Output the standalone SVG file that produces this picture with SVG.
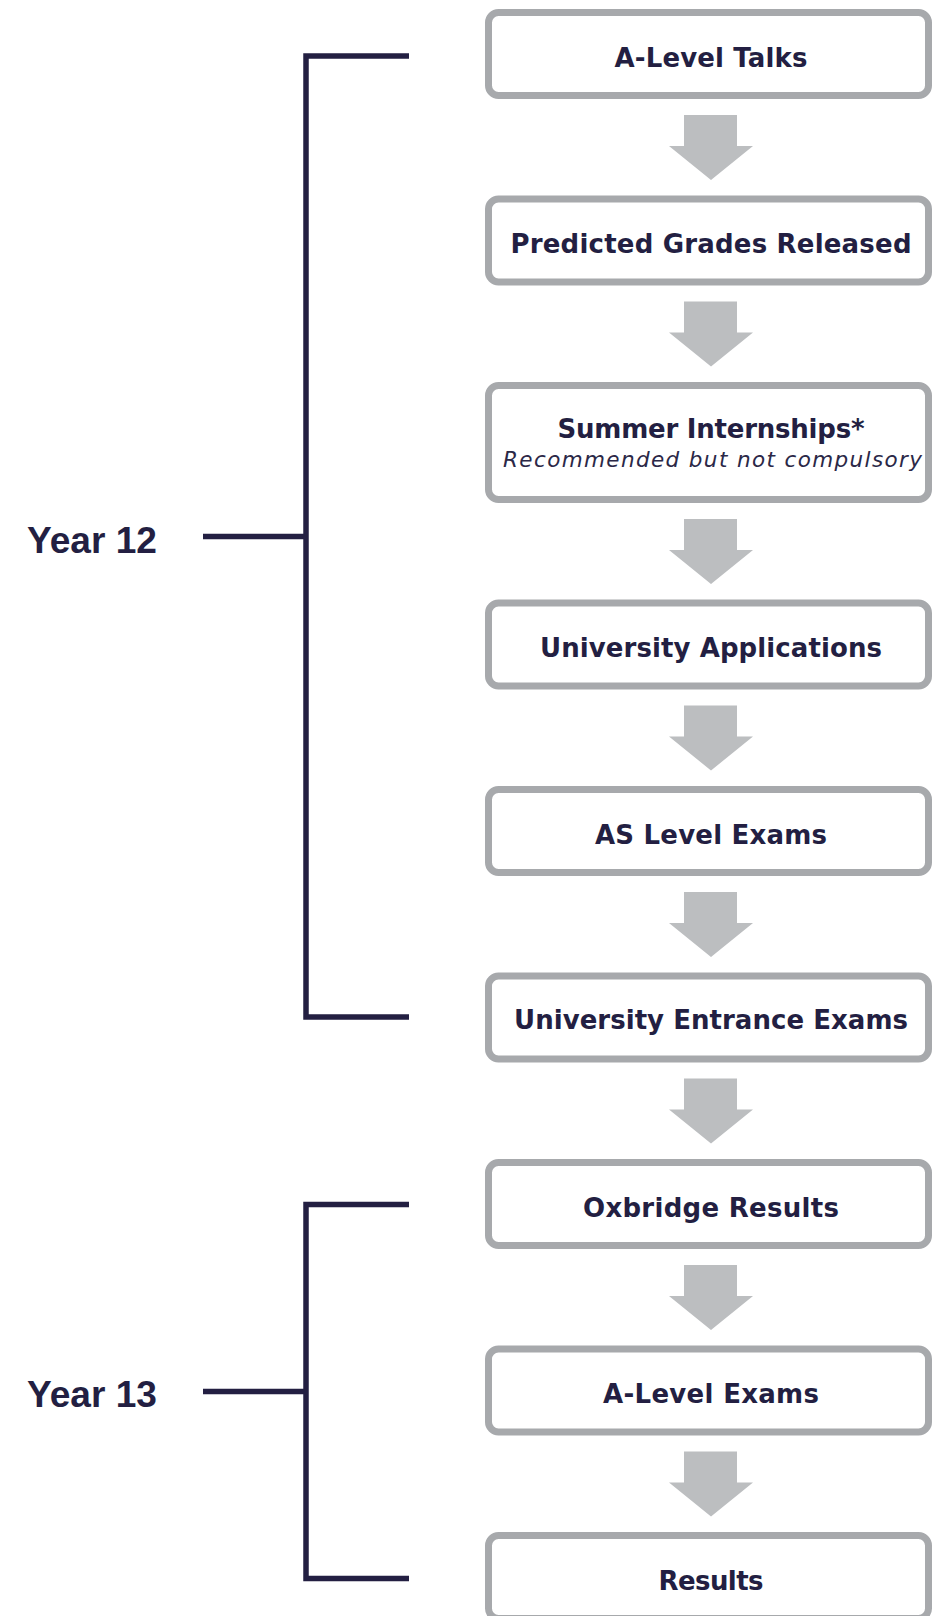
<svg xmlns="http://www.w3.org/2000/svg" width="932" height="1616" viewBox="0 0 932 1616">
<style>
.box{fill:#ffffff;stroke:#a7a9ac;stroke-width:7}
.lbl{font-family:"DejaVu Sans",sans-serif;font-weight:bold;font-size:26px;fill:#231f42;text-anchor:middle}
.sub{font-family:"DejaVu Sans",sans-serif;font-style:italic;font-size:21.5px;fill:#2b2847;text-anchor:middle}
.year{font-family:"Liberation Sans",Arial,sans-serif;font-weight:bold;font-size:36px;fill:#231f42}
.br{fill:none;stroke:#231f42;stroke-width:5.5;stroke-linejoin:miter;stroke-linecap:butt}
.arr{fill:#bcbec0}
</style>
<defs>
<path id="arrow" d="M-27,0 H26 V31 H42 L0,65 L-42,31 H-27 Z"/>
</defs>
<rect width="932" height="1616" fill="#ffffff"/>
<g id="connectors">
<use href="#arrow" class="arr" x="711" y="115"/>
<use href="#arrow" class="arr" x="711" y="301.5"/>
<use href="#arrow" class="arr" x="711" y="519"/>
<use href="#arrow" class="arr" x="711" y="705.5"/>
<use href="#arrow" class="arr" x="711" y="892"/>
<use href="#arrow" class="arr" x="711" y="1078.5"/>
<use href="#arrow" class="arr" x="711" y="1265"/>
<use href="#arrow" class="arr" x="711" y="1451.5"/>
<path class="br" d="M409,56 H306 V1017 H409 M203,536.5 H306"/>
<path class="br" d="M409,1204.5 H306 V1578.5 H409 M203,1391.5 H306"/>
</g>
<g id="year12"><text class="year" x="27" y="553" textLength="130" lengthAdjust="spacingAndGlyphs">Year 12</text></g>
<g id="year13"><text class="year" x="27" y="1407" textLength="130" lengthAdjust="spacingAndGlyphs">Year 13</text></g>
<g id="n1"><rect class="box" x="488.5" y="12.5" width="440" height="83" rx="10"/><text class="lbl" x="711" y="66.5" textLength="193">A-Level Talks</text></g>
<g id="n2"><rect class="box" x="488.5" y="199" width="440" height="83" rx="10"/><text class="lbl" x="711" y="253" textLength="401">Predicted Grades Released</text></g>
<g id="n3"><rect class="box" x="488.5" y="385.5" width="440" height="114" rx="10"/><text class="lbl" x="711" y="438" textLength="307">Summer Internships*</text><text class="sub" x="712.5" y="467" textLength="419">Recommended but not compulsory</text></g>
<g id="n4"><rect class="box" x="488.5" y="603" width="440" height="83" rx="10"/><text class="lbl" x="711" y="657" textLength="342">University Applications</text></g>
<g id="n5"><rect class="box" x="488.5" y="789.5" width="440" height="83" rx="10"/><text class="lbl" x="711" y="843.5" textLength="232">AS Level Exams</text></g>
<g id="n6"><rect class="box" x="488.5" y="976" width="440" height="83" rx="10"/><text class="lbl" x="711" y="1029" textLength="394">University Entrance Exams</text></g>
<g id="n7"><rect class="box" x="488.5" y="1162.5" width="440" height="83" rx="10"/><text class="lbl" x="711" y="1216.5" textLength="256">Oxbridge Results</text></g>
<g id="n8"><rect class="box" x="488.5" y="1349" width="440" height="83" rx="10"/><text class="lbl" x="711" y="1403" textLength="216">A-Level Exams</text></g>
<g id="n9"><rect class="box" x="488.5" y="1535.5" width="440" height="83" rx="10"/><text class="lbl" x="711" y="1589.5" textLength="105">Results</text></g>
</svg>
